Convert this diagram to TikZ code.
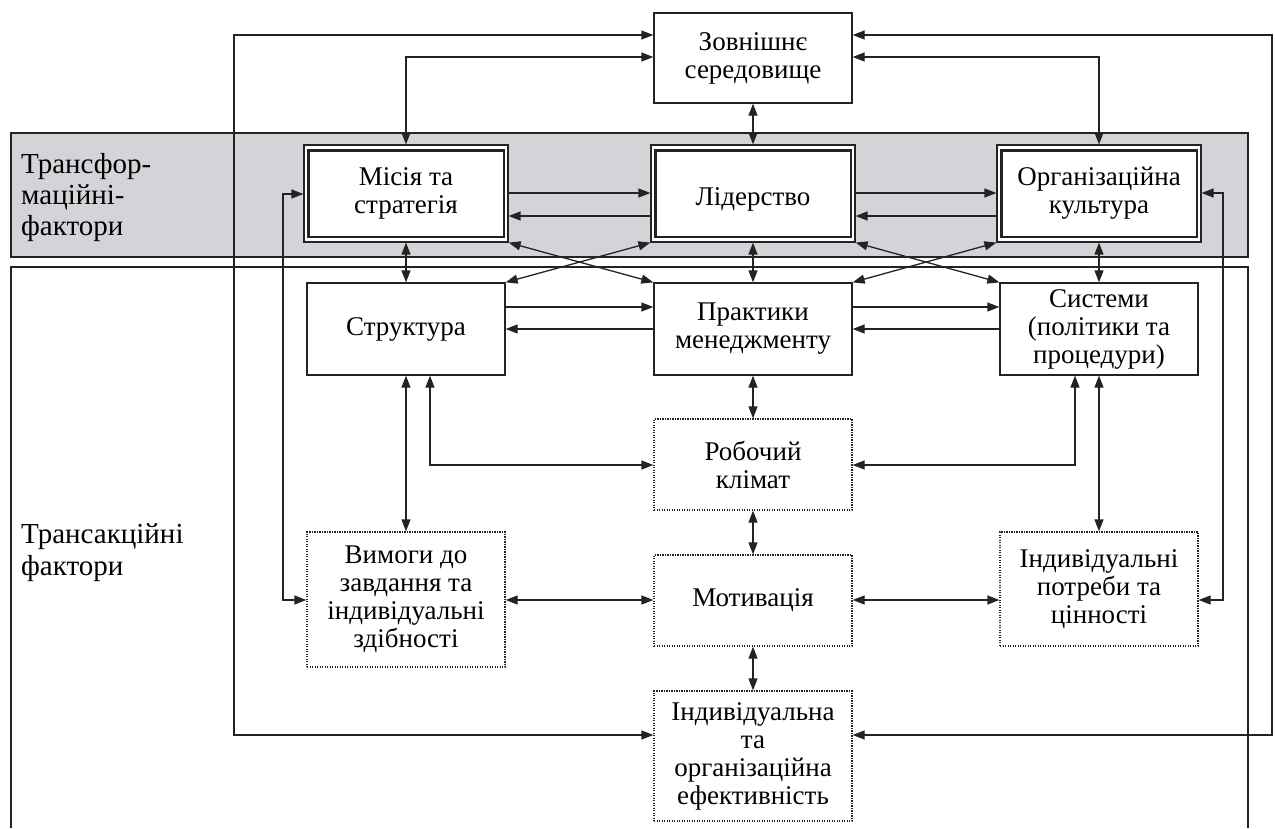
\documentclass[tikz,border=0pt]{standalone}
\usepackage{fontspec}
\setmainfont{Liberation Serif}
\usetikzlibrary{arrows.meta}
\definecolor{bandgray}{RGB}{211,212,215}
\definecolor{ink}{RGB}{35,35,35}
\tikzset{
  boxtext/.style={font=\fontsize{27}{28}\selectfont, align=center, text=black},
  solidbox/.style={boxtext, draw=ink, line width=1.3pt, inner sep=0pt, minimum width=198pt, fill=white},
  dotbox/.style={boxtext, draw=ink, line width=1.3pt, dash pattern=on 1.4pt off 1.1pt, inner sep=0pt, minimum width=198pt, fill=white},
  dblbox/.style={boxtext, draw=ink, line width=1.2pt, inner sep=0pt, minimum width=204pt, minimum height=97pt, fill=white},
  innerframe/.style={draw=ink, line width=2.2pt},
  tip/.tip={Triangle[length=12pt,width=9pt]},
  biarr/.style={draw=ink, line width=1.3pt, tip-tip},
  onearr/.style={draw=ink, line width=1.3pt, -tip},
  labeltext/.style={font=\fontsize{29}{31}\selectfont, align=left, inner sep=0pt, text=black}
}
\begin{document}
\begin{tikzpicture}[x=1pt,y=-1pt]
\useasboundingbox (0,0) rectangle (1275,828);
% band and frame
\draw[ink, line width=1.3pt, fill=bandgray] (11,133) rectangle (1248,257);
\draw[ink, line width=1.3pt] (11,828) -- (11,267) -- (1248,267) -- (1248,828);
% labels
\node[labeltext, anchor=base west] (lab1) at (21,235) {Трансфор-\\маційні-\\фактори};
\node[labeltext, anchor=base west, font=\fontsize{29}{32}\selectfont] (lab2) at (21,575) {Трансакційні\\фактори};
% nodes
\node[solidbox, minimum height=90pt] (env) at (753,58) {Зовнішнє\\середовище};
\node[dblbox] (mis) at (406,193.5) {Місія та\\стратегія};
\node[dblbox] (lead) at (753,193.5) {\raisebox{0pt}[\dimexpr\height+12pt\relax]{Лідерство}};
\node[dblbox] (cult) at (1099,193.5) {Організаційна\\культура};
\foreach \n in {mis,lead,cult}
  \draw[innerframe] ([shift={(5,6)}]\n.north west) rectangle ([shift={(-5,-6)}]\n.south east);
\node[solidbox, minimum height=92pt] (str) at (406,329) {Структура};
\node[solidbox, minimum height=92pt] (prac) at (753,329) {Практики\\менеджменту};
\node[solidbox, minimum height=92pt] (sys) at (1099,329) {Системи\\(політики та\\процедури)};
\node[dotbox, minimum height=91pt] (clim) at (753,464.5) {Робочий\\клімат};
\node[dotbox, minimum height=135pt] (req) at (406,599.5) {Вимоги до\\завдання та\\індивідуальні\\здібності};
\node[dotbox, minimum height=91pt] (mot) at (753,600.5) {Мотивація};
\node[dotbox, minimum height=114pt] (need) at (1099,589) {Індивідуальні\\потреби та\\цінності};
\node[dotbox, minimum height=130pt] (eff) at (753,756) {Індивідуальна\\та\\організаційна\\ефективність};
% outer loops
\draw[biarr] (env.west |- 0,35) -| (234,735) -- (eff.west |- 0,735);
\draw[biarr] (env.east |- 0,35) -| (1272,735) -- (eff.east |- 0,735);
\draw[biarr] (env.west |- 0,57) -| (mis.north);
\draw[biarr] (env.east |- 0,57) -| (cult.north);
\draw[biarr] (env.south) -- (lead.north);
% row 1 horizontals
\draw[onearr] (mis.east |- 0,193) -- (lead.west |- 0,193);
\draw[onearr] (lead.west |- 0,216) -- (mis.east |- 0,216);
\draw[onearr] (lead.east |- 0,193) -- (cult.west |- 0,193);
\draw[onearr] (cult.west |- 0,216) -- (lead.east |- 0,216);
% row 2 horizontals
\draw[onearr] (str.east |- 0,307) -- (prac.west |- 0,307);
\draw[onearr] (prac.west |- 0,329) -- (str.east |- 0,329);
\draw[onearr] (prac.east |- 0,307) -- (sys.west |- 0,307);
\draw[onearr] (sys.west |- 0,329) -- (prac.east |- 0,329);
% verticals row1-row2
\draw[biarr] (mis.south) -- (str.north);
\draw[biarr] (lead.south) -- (prac.north);
\draw[biarr] (cult.south) -- (sys.north);
% crosses
\draw[biarr] (mis.south east) -- (prac.north west);
\draw[biarr] (lead.south west) -- (str.north east);
\draw[biarr] (lead.south east) -- (sys.north west);
\draw[biarr] (cult.south west) -- (prac.north east);
% lower links
\draw[biarr] (str.south) -- (req.north);
\draw[biarr] (str.south -| 430,0) |- (clim.west |- 0,465);
\draw[biarr] (sys.south -| 1075,0) |- (clim.east |- 0,465);
\draw[biarr] (sys.south) -- (need.north);
\draw[biarr] (prac.south) -- (clim.north);
\draw[biarr] (clim.south) -- (mot.north);
\draw[biarr] (mot.south) -- (eff.north);
\draw[biarr] (req.east |- 0,600) -- (mot.west |- 0,600);
\draw[biarr] (mot.east |- 0,600) -- (need.west |- 0,600);
\draw[biarr] (mis.west |- 0,194) -| (283,600) -- (req.west |- 0,600);
\draw[biarr] (cult.east |- 0,193) -| (1223,600) -- (need.east |- 0,600);
\end{tikzpicture}
\end{document}
